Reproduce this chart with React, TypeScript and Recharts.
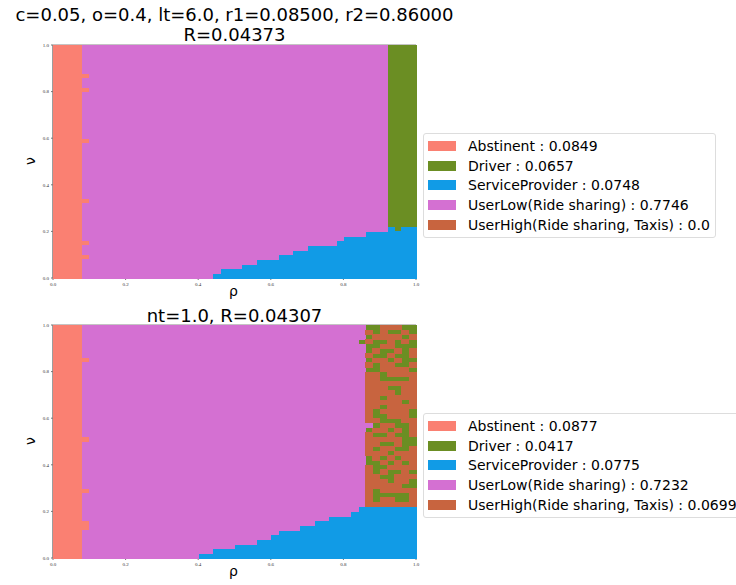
import { ReferenceArea, Scatter, ScatterChart, XAxis, YAxis } from "recharts";

const N = 50; // grid is 50 x 50 cells
const TICKS = [0, 0.2, 0.4, 0.6, 0.8, 1.0];

const CATEGORIES = [
  "Abstinent",
  "Driver",
  "ServiceProvider",
  "UserLow(Ride sharing)",
  "UserHigh(Ride sharing, Taxis)",
];
const COLORS = ["#fa8072", "#6b8e23", "#119be6", "#d470d2", "#c8643f"];

const TOP_SHARES = ["0.0849", "0.0657", "0.0748", "0.7746", "0.0"];
const BOTTOM_SHARES = ["0.0877", "0.0417", "0.0775", "0.7232", "0.0699"];

// Abstinent fills the first columns; single cells stick out in the next column
const ABSTINENT_COLS = 4;
const TOP_BUMP_ROWS = [43, 40, 29, 16, 7, 4];
const BOTTOM_BUMP_ROWS = [42, 25, 14, 7, 6];

// ServiceProvider height (rows) per column
const TOP_SP_HEIGHTS = [
  0, 0, 0, 0, 0, 0, 0, 0, 0, 0, 0, 0, 0, 0, 0, 0, 0, 0, 0, 0, 0, 0,
  1, 2, 2, 2, 3, 3, 4, 4, 4, 5, 5, 6, 6, 7, 7, 7, 7, 8, 9, 9, 9, 10, 10, 10, 11, 10, 11, 11,
];
const BOTTOM_SP_HEIGHTS = [
  0, 0, 0, 0, 0, 0, 0, 0, 0, 0, 0, 0, 0, 0, 0, 0, 0, 0, 0, 0,
  1, 1, 2, 2, 2, 3, 3, 3, 4, 4, 5, 6, 6, 6, 7, 7, 8, 8, 9, 9, 9, 10, 11, 11, 11, 11, 11, 11, 11, 11,
];

// top panel: Driver strip on the right
const TOP_DRIVER_COL = 46;

// bottom panel: mixed Driver / UserHigh strip, columns 42..49, rows 49 down to 11
const BOTTOM_MIX_COL = 42;
const BOTTOM_MIX_ROWS = [
  "PDDHHHDD", "PHDHDDHD", "PDHHHHDH", "DHDDHDHD", "PDDHHDDD", "PDHDDHDH",
  "PHDDHDDH", "PDHHDHDD", "PHDHHDDH", "PDDHHHHD", "PHHDHHHH", "PHHDDDDH",
  "PHHHHHHH", "PHHHDDHH", "PHHHHDHH", "PHHDHHHH", "PHHHHHDH", "PHHDHHHH",
  "PHDHHHHD", "PHDDHHHD", "PHHDDDHH", "PPDHHDDH", "PDHHDHDH", "PHDDHDDH",
  "PHHHHHDD", "PHHDDHDD", "PHDHHDDH", "PHHHDHHH", "PDHDHDHH", "PDDHDHDH",
  "PHDDHHHH", "PHDHDDHD", "PHHDDHHH", "PHHHDHHD", "PHHHHHDD", "PHDHHHHH",
  "PHDDDDDH", "PHDHHDDH", "PHHHHHHH",
];

const CODE: Record<string, number> = { D: 1, H: 4, P: 3 };

type Pt = { x: number; y: number };

function buildCells(bumps: number[], sp: number[], mixCol: number, mixRows?: string[]) {
  const out: Pt[][] = CATEGORIES.map(() => []);
  for (let c = 0; c < N; c++) {
    for (let r = 0; r < N; r++) {
      let cat = 3;
      if (c < ABSTINENT_COLS || (c === ABSTINENT_COLS && bumps.includes(r))) cat = 0;
      else if (r < sp[c]) cat = 2;
      else if (c >= mixCol) {
        if (!mixRows) cat = 1;
        else {
          const row = mixRows[N - 1 - r];
          if (row) cat = CODE[row[c - mixCol]] ?? 3;
        }
      }
      out[cat].push({ x: (c + 0.5) / N, y: (r + 0.5) / N });
    }
  }
  return out;
}

const TOP_CELLS = buildCells(TOP_BUMP_ROWS, TOP_SP_HEIGHTS, TOP_DRIVER_COL);
const BOTTOM_CELLS = buildCells(BOTTOM_BUMP_ROWS, BOTTOM_SP_HEIGHTS, BOTTOM_MIX_COL, BOTTOM_MIX_ROWS);

const W = 420;
const H = 300;
const M = { top: 45, right: 4, bottom: 0, left: 0 };
const Y_W = 53;
const X_H = 22;
const CW = (W - M.left - M.right - Y_W) / N;
const CH = (H - M.top - M.bottom - X_H) / N;

const tickStyle = { fontSize: 5, fill: "#333" };
const FONT = "DejaVu Sans, sans-serif";

function Panel({ cells, top }: { cells: Pt[][]; top: number }) {
  return (
    <div style={{ position: "absolute", left: 0, top }}>
      <ScatterChart width={W} height={H} margin={M}>
        <XAxis
          type="number"
          dataKey="x"
          domain={[0, 1]}
          ticks={TICKS}
          tickFormatter={(v) => Number(v).toFixed(1)}
          height={X_H}
          tick={tickStyle}
          tickSize={2}
          stroke="#777"
          interval={0}
        />
        <YAxis
          type="number"
          dataKey="y"
          domain={[0, 1]}
          ticks={TICKS}
          tickFormatter={(v) => Number(v).toFixed(1)}
          width={Y_W}
          tick={tickStyle}
          tickSize={2}
          stroke="#777"
          interval={0}
        />
        {cells.map((pts, i) => (
          <Scatter
            key={CATEGORIES[i]}
            name={CATEGORIES[i]}
            data={pts}
            isAnimationActive={false}
            shape={(p: any) => (
              <rect
                x={p.cx - CW / 2}
                y={p.cy - CH / 2}
                width={CW + 0.6}
                height={CH + 0.6}
                fill={COLORS[i]}
                shapeRendering="crispEdges"
              />
            )}
          />
        ))}
        <ReferenceArea x1={0} x2={1} y1={0} y2={1} fill="none" stroke="#888" strokeWidth={1} ifOverflow="visible" />
      </ScatterChart>
    </div>
  );
}

function LegendBox({ shares, top, width }: { shares: string[]; top: number; width: number }) {
  return (
    <div
      style={{
        position: "absolute",
        left: 423,
        top,
        width,
        height: 105,
        border: "1px solid #ddd",
        borderRadius: 3,
        boxSizing: "border-box",
        paddingTop: 2,
        fontFamily: FONT,
        fontSize: 14,
        color: "#000",
      }}
    >
      {CATEGORIES.map((c, i) => (
        <div key={c} style={{ display: "flex", alignItems: "center", height: 19.8, whiteSpace: "nowrap" }}>
          <span style={{ display: "inline-block", width: 28, height: 10, background: COLORS[i], marginLeft: 4, marginRight: 12 }} />
          <span>
            {c} : {shares[i]}
          </span>
        </div>
      ))}
    </div>
  );
}

const titleStyle: React.CSSProperties = {
  position: "absolute",
  left: 0,
  width: 469,
  textAlign: "center",
  fontFamily: FONT,
  fontSize: 18,
  lineHeight: "20px",
  whiteSpace: "nowrap",
  color: "#000",
};

const labelStyle: React.CSSProperties = {
  position: "absolute",
  fontFamily: FONT,
  fontSize: 14,
  color: "#000",
};

export default function App() {
  return (
    <div
      style={{
        position: "absolute",
        left: 0,
        top: 0,
        width: 736,
        height: 585,
        overflow: "hidden",
        background: "#fff",
      }}
    >
      <Panel cells={TOP_CELLS} top={0} />
      <Panel cells={BOTTOM_CELLS} top={280} />

      <div style={{ ...titleStyle, top: 5 }}>
        c=0.05, o=0.4, lt=6.0, r1=0.08500, r2=0.86000
        <br />
        R=0.04373
      </div>
      <div style={{ ...titleStyle, top: 306 }}>nt=1.0, R=0.04307</div>

      <div style={{ ...labelStyle, left: 229, top: 283 }}>ρ</div>
      <div style={{ ...labelStyle, left: 229, top: 563 }}>ρ</div>
      <div style={{ ...labelStyle, left: 26, top: 153, transform: "rotate(-90deg)" }}>ν</div>
      <div style={{ ...labelStyle, left: 26, top: 433, transform: "rotate(-90deg)" }}>ν</div>

      <LegendBox shares={TOP_SHARES} top={133} width={293} />
      <LegendBox shares={BOTTOM_SHARES} top={413} width={330} />
    </div>
  );
}
